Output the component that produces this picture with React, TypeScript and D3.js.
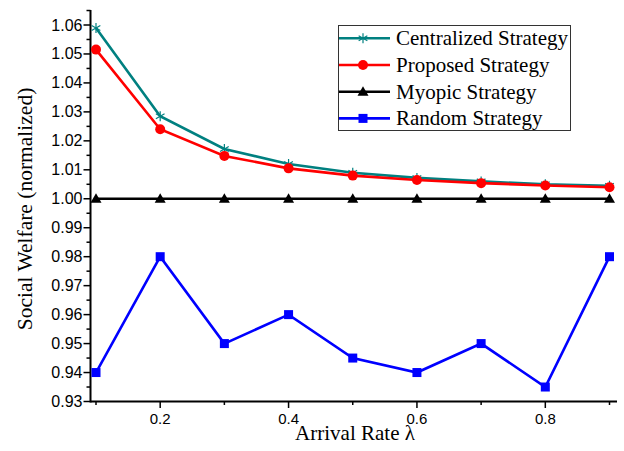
import React from "react";
import * as d3 from "d3";

const xValues = [0.1, 0.2, 0.3, 0.4, 0.5, 0.6, 0.7, 0.8, 0.9];
const centralized = [1.059, 1.0285, 1.0172, 1.012, 1.009, 1.0072, 1.006, 1.005, 1.0045];
const proposed = [1.0515, 1.024, 1.0148, 1.0105, 1.008, 1.0065, 1.0054, 1.0046, 1.004];
const myopic = [1.0, 1.0, 1.0, 1.0, 1.0, 1.0, 1.0, 1.0, 1.0];
const random = [0.94, 0.98, 0.95, 0.96, 0.945, 0.94, 0.95, 0.935, 0.98];
const yTicks = [0.93, 0.94, 0.95, 0.96, 0.97, 0.98, 0.99, 1.0, 1.01, 1.02, 1.03, 1.04, 1.05, 1.06];
const xTicks = [0.2, 0.4, 0.6, 0.8];
const xMinorTicks = [0.1, 0.3, 0.5, 0.7, 0.9];
const seriesNames = ["Centralized Strategy", "Proposed Strategy", "Myopic Strategy", "Random Strategy"];

const series = [
  { name: seriesNames[0], values: centralized, color: "#008080", marker: "star" },
  { name: seriesNames[1], values: proposed, color: "#ff0000", marker: "circle" },
  { name: seriesNames[2], values: myopic, color: "#000000", marker: "triangle" },
  { name: seriesNames[3], values: random, color: "#0000ff", marker: "square" },
];

function Marker({ type, x, y, color }: { type: string; x: number; y: number; color: string }) {
  if (type === "circle") return <circle cx={x} cy={y} r={5} fill={color} />;
  if (type === "square") return <rect x={x - 4.5} y={y - 4.5} width={9} height={9} fill={color} />;
  if (type === "triangle")
    return <path d={`M${x},${y - 5.5}L${x + 5.5},${y + 4}L${x - 5.5},${y + 4}Z`} fill={color} />;
  const r = 5;
  return (
    <g stroke={color} strokeWidth={1.2}>
      <line x1={x} y1={y - r} x2={x} y2={y + r} />
      <line x1={x - r * 0.87} y1={y - r * 0.5} x2={x + r * 0.87} y2={y + r * 0.5} />
      <line x1={x - r * 0.87} y1={y + r * 0.5} x2={x + r * 0.87} y2={y - r * 0.5} />
    </g>
  );
}

export default function App() {
  const W = 624, H = 451;
  const x = d3.scaleLinear().domain([0.1, 0.9]).range([96, 609.5]);
  const y = d3.scaleLinear().domain([0.93, 1.06]).range([401.5, 25]);
  const x0 = 90.5, x1 = 617;
  const yBottom = 401.5, yTop = 10;
  const minorY = d3.range(0, 13).map((i) => 0.935 + i * 0.01);
  const line = d3.line<number>().x((_, i) => x(xValues[i])).y((d) => y(d));
  const sans = "'Liberation Sans', Arial, sans-serif";
  const serif = "'Liberation Serif', 'Times New Roman', serif";

  return (
    <svg width={W} height={H} style={{ position: "absolute", left: 0, top: 0, background: "#fff" }}>
      <rect width={W} height={H} fill="#fff" />
      <line x1={x0} y1={yBottom} x2={x1} y2={yBottom} stroke="#000" strokeWidth={2} />
      <line x1={x0} y1={yBottom + 1} x2={x0} y2={yTop} stroke="#000" strokeWidth={2} />
      {yTicks.map((t) => (
        <g key={"y" + t}>
          <line x1={x0 - 7} x2={x0} y1={y(t)} y2={y(t)} stroke="#000" strokeWidth={1.5} />
          <text x={x0 - 8} y={y(t) + 5.5} textAnchor="end" fontFamily={sans} fontSize={16} fill="#000">
            {t.toFixed(2)}
          </text>
        </g>
      ))}
      {minorY.map((t) => (
        <line key={"my" + t} x1={x0 - 4} x2={x0} y1={y(t)} y2={y(t)} stroke="#000" strokeWidth={1.5} />
      ))}
      <line x1={x0 - 4} x2={x0} y1={y(1.065)} y2={y(1.065)} stroke="#000" strokeWidth={1.5} />
      {xTicks.map((t) => (
        <g key={"x" + t}>
          <line x1={x(t)} x2={x(t)} y1={yBottom} y2={yBottom + 6.5} stroke="#000" strokeWidth={1.5} />
          <text x={x(t)} y={yBottom + 22.5} textAnchor="middle" fontFamily={sans} fontSize={15} fill="#000">
            {t.toFixed(1)}
          </text>
        </g>
      ))}
      {xMinorTicks.map((t) => (
        <line key={"mx" + t} x1={x(t)} x2={x(t)} y1={yBottom} y2={yBottom + 3.5} stroke="#000" strokeWidth={1.5} />
      ))}
      <text x={355} y={440} textAnchor="middle" fontFamily={serif} fontSize={21} fill="#000">
        Arrival Rate λ
      </text>
      <text
        transform={`translate(32,209) rotate(-90)`}
        textAnchor="middle"
        fontFamily={serif}
        fontSize={21.5}
        fill="#000"
      >
        Social Welfare (normalized)
      </text>
      {[3, 2, 0, 1].map((si) => {
        const s = series[si];
        return (
          <g key={s.name}>
            <path d={line(s.values) || ""} fill="none" stroke={s.color} strokeWidth={2.6} />
            {s.values.map((v, i) => (
              <Marker key={i} type={s.marker} x={x(xValues[i])} y={y(v)} color={s.color} />
            ))}
          </g>
        );
      })}
      <rect x={338.5} y={25.5} width={232} height={105} fill="#fff" stroke="#333" strokeWidth={1} />
      {series.map((s, i) => {
        const ly = 38.3 + i * 26.7;
        return (
          <g key={"lg" + s.name}>
            <line x1={339} x2={390} y1={ly} y2={ly} stroke={s.color} strokeWidth={2.6} />
            <Marker type={s.marker} x={363} y={ly} color={s.color} />
            <text x={396} y={ly + 7} fontFamily={serif} fontSize={21} fill="#000">
              {s.name}
            </text>
          </g>
        );
      })}
    </svg>
  );
}
